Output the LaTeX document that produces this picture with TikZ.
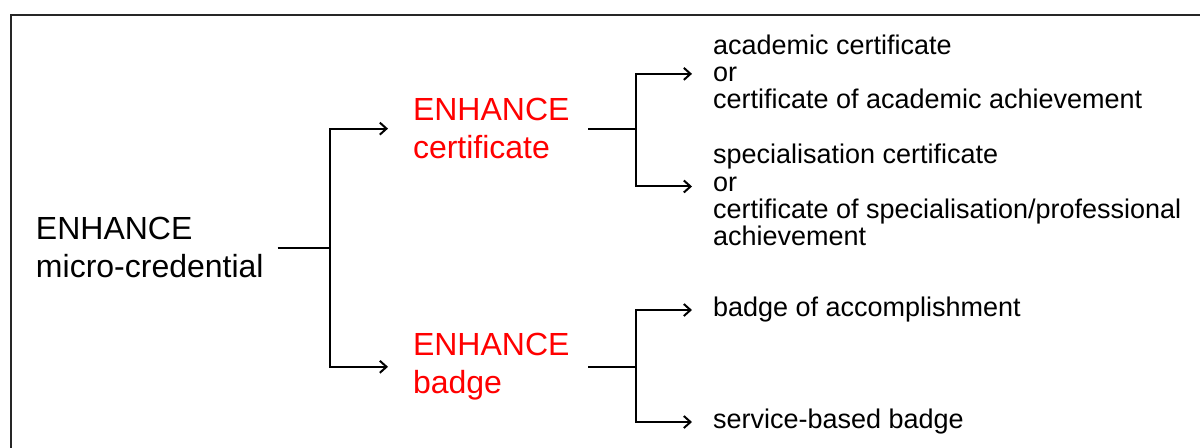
\documentclass[tikz,border=0pt]{standalone}
\usepackage{fontspec}
\setmainfont{Liberation Sans}
\usepackage{xcolor}
\usetikzlibrary{arrows.meta}

\begin{document}
\begin{tikzpicture}[x=0.75pt, y=-0.75pt,
			>={Straight Barb[length=5pt,width=9pt]},
			line width=1.5pt,
			head/.style={align=left, inner sep=0pt, anchor=base west, font=\fontsize{24}{29}\selectfont},
			kind/.style={head, text=red},
			leaf/.style={align=left, inner sep=0pt, anchor=base west, font=\fontsize{20.25}{20.6}\selectfont},
			tohead/.style={->, shorten >=18pt},
			toleaf/.style={->, shorten >=15pt}]
			
			\useasboundingbox (0,0) rectangle (1200,448);
			\draw[line width=1.8pt, black!85] (1200,15) -- (11,15) -- (11,448);
			
			% base anchor sits on the last line
			\node[head] (mc) at (35,278) {ENHANCE\\micro-credential};
			\node[kind] (cert) at (412,159) {ENHANCE\\certificate};
			\node[kind] (badge) at (412,394) {ENHANCE\\badge};
			
			\node[leaf] (acad) at (712,109) {academic certificate\\or\\certificate of academic achievement};
			\node[leaf] (spec) at (712,246) {specialisation certificate\\or\\certificate of specialisation/professional\\achievement};
			\node[leaf] (accomp) at (712,317) {badge of accomplishment};
			\node[leaf] (service) at (712,429) {service-based badge};
			
			% micro-credential fork
			\draw (mc.east) ++(13,0) -- ++(52,0) coordinate (f1);
			\draw[tohead] (f1) |- (cert.west);
			\draw[tohead] (f1) |- (badge.west);
			
			% certificate fork
			\draw (cert.east) ++(18,0) -- ++(48,0) coordinate (f2);
			\draw[toleaf] (f2) |- ([yshift=-1.5pt]acad.west);
			\draw[toleaf] (f2) |- ([yshift=6.5pt]spec.west);
			
			% badge fork
			\draw (badge.east) ++(18,0) -- ++(48,0) coordinate (f3);
			\draw[toleaf] (f3) |- (accomp.west);
			\draw[toleaf] (f3) |- (service.west);
		\end{tikzpicture}
\end{document}
